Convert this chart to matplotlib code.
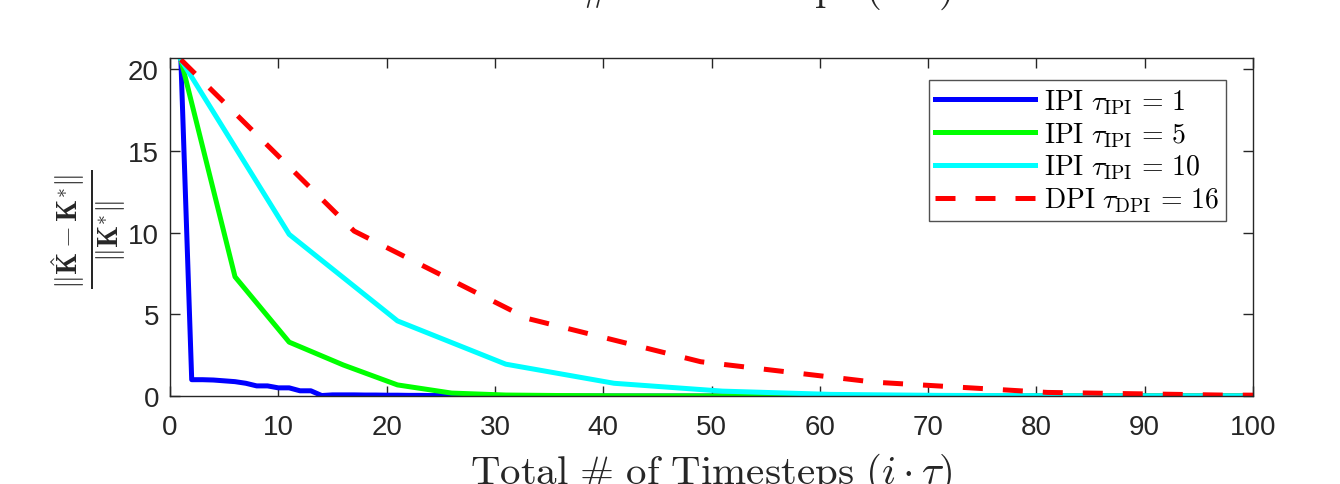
import numpy as np
import matplotlib
matplotlib.use("Agg")
import matplotlib.pyplot as plt

plt.rcParams["mathtext.fontset"] = "cm"
plt.rcParams["font.family"] = ["Liberation Sans", "DejaVu Sans"]

# IPI, tau = 1 (one point per timestep)
ipi1_x = np.arange(1, 101)
ipi1_y = [20.6, 1.0, 1.0, 0.98, 0.93, 0.88, 0.78, 0.62, 0.62, 0.5,
          0.5, 0.32, 0.32, 0.03, 0.07, 0.07, 0.07, 0.06, 0.06, 0.05,
          0.05, 0.04, 0.04, 0.03, 0.03, 0.02, 0.02, 0.01, 0.01, 0.01] + [0.0] * 70

# IPI, tau = 5
ipi5_x = np.arange(1, 102, 5)
ipi5_y = [20.6, 7.3, 3.3, 1.9, 0.68, 0.18, 0.06, 0.03, 0.015, 0.01,
          0.005, 0.0, 0.0, 0.0, 0.0, 0.0, 0.0, 0.0, 0.0, 0.0, 0.0]

# IPI, tau = 10
ipi10_x = np.arange(1, 102, 10)
ipi10_y = [20.6, 9.9, 4.6, 1.95, 0.78, 0.3, 0.1, 0.04, 0.015, 0.005, 0.002]

# DPI, tau = 16
dpi16_x = np.arange(1, 114, 16)
dpi16_y = [20.6, 10.1, 4.75, 2.1, 0.85, 0.22, 0.06, 0.02]

labels = [r"$\mathrm{IPI}\ \tau_{\mathrm{IPI}}\,=\,1$",
          r"$\mathrm{IPI}\ \tau_{\mathrm{IPI}}\,=\,5$",
          r"$\mathrm{IPI}\ \tau_{\mathrm{IPI}}\,=\,10$",
          r"$\mathrm{DPI}\ \tau_{\mathrm{DPI}}\,=\,16$"]
xlabel = r"$\mathrm{Total\ \#\ of\ Timesteps}\ (i \cdot \tau)$"

fig = plt.figure(figsize=(13.4, 4.85), dpi=100)
ax = fig.add_axes([0.1269, 0.1814, 0.8082, 0.697])

lw = 3.6
ax.plot(ipi1_x, ipi1_y, color=(0, 0, 1), lw=lw, label=labels[0])
ax.plot(ipi5_x, ipi5_y, color=(0, 1, 0), lw=lw, label=labels[1])
ax.plot(ipi10_x, ipi10_y, color=(0, 1, 1), lw=lw, label=labels[2])
ax.plot(dpi16_x, dpi16_y, color=(1, 0, 0), lw=lw, dashes=(4, 4),
        dash_capstyle="butt", label=labels[3])

ax.set_xlim(0, 100)
ax.set_ylim(0, 20.7)
ax.set_xticks(np.arange(0, 101, 10))
ax.set_yticks([0, 5, 10, 15, 20])
ax.tick_params(direction="in", length=7, width=1, top=True, right=True,
               labelsize=20, colors="#262626", pad=8)
ax.tick_params(axis="x", pad=13)
for sp in ax.spines.values():
    sp.set_color("#262626")
    sp.set_linewidth(1)

leg = ax.legend(loc="upper right", fontsize=20, handlelength=3.6,
                frameon=True, fancybox=False, borderpad=0.25,
                labelspacing=0.15, handletextpad=0.3, borderaxespad=0,
                bbox_to_anchor=(0.975, 0.935))
leg.get_frame().set_edgecolor("#262626")
leg.get_frame().set_linewidth(1)

cx = 0.1269 + 0.8082 / 2
# x label of this plot and the tail of the one above it
fig.text(cx, 1.0 / 485, xlabel, ha="center", va="baseline", fontsize=29.5, color="#262626")
fig.text(cx, 1.0, xlabel, ha="center", va="baseline", fontsize=29.5, color="#262626")

fig.text(89 / 1340, 1 - 229 / 485,
         r"$\frac{\Vert\hat{\mathbf{K}} - \mathbf{K}^{*}\Vert}{\Vert\mathbf{K}^{*}\Vert}$",
         rotation=90, ha="center", va="center", fontsize=29, color="#262626")

fig.savefig("out.png", dpi=100)
